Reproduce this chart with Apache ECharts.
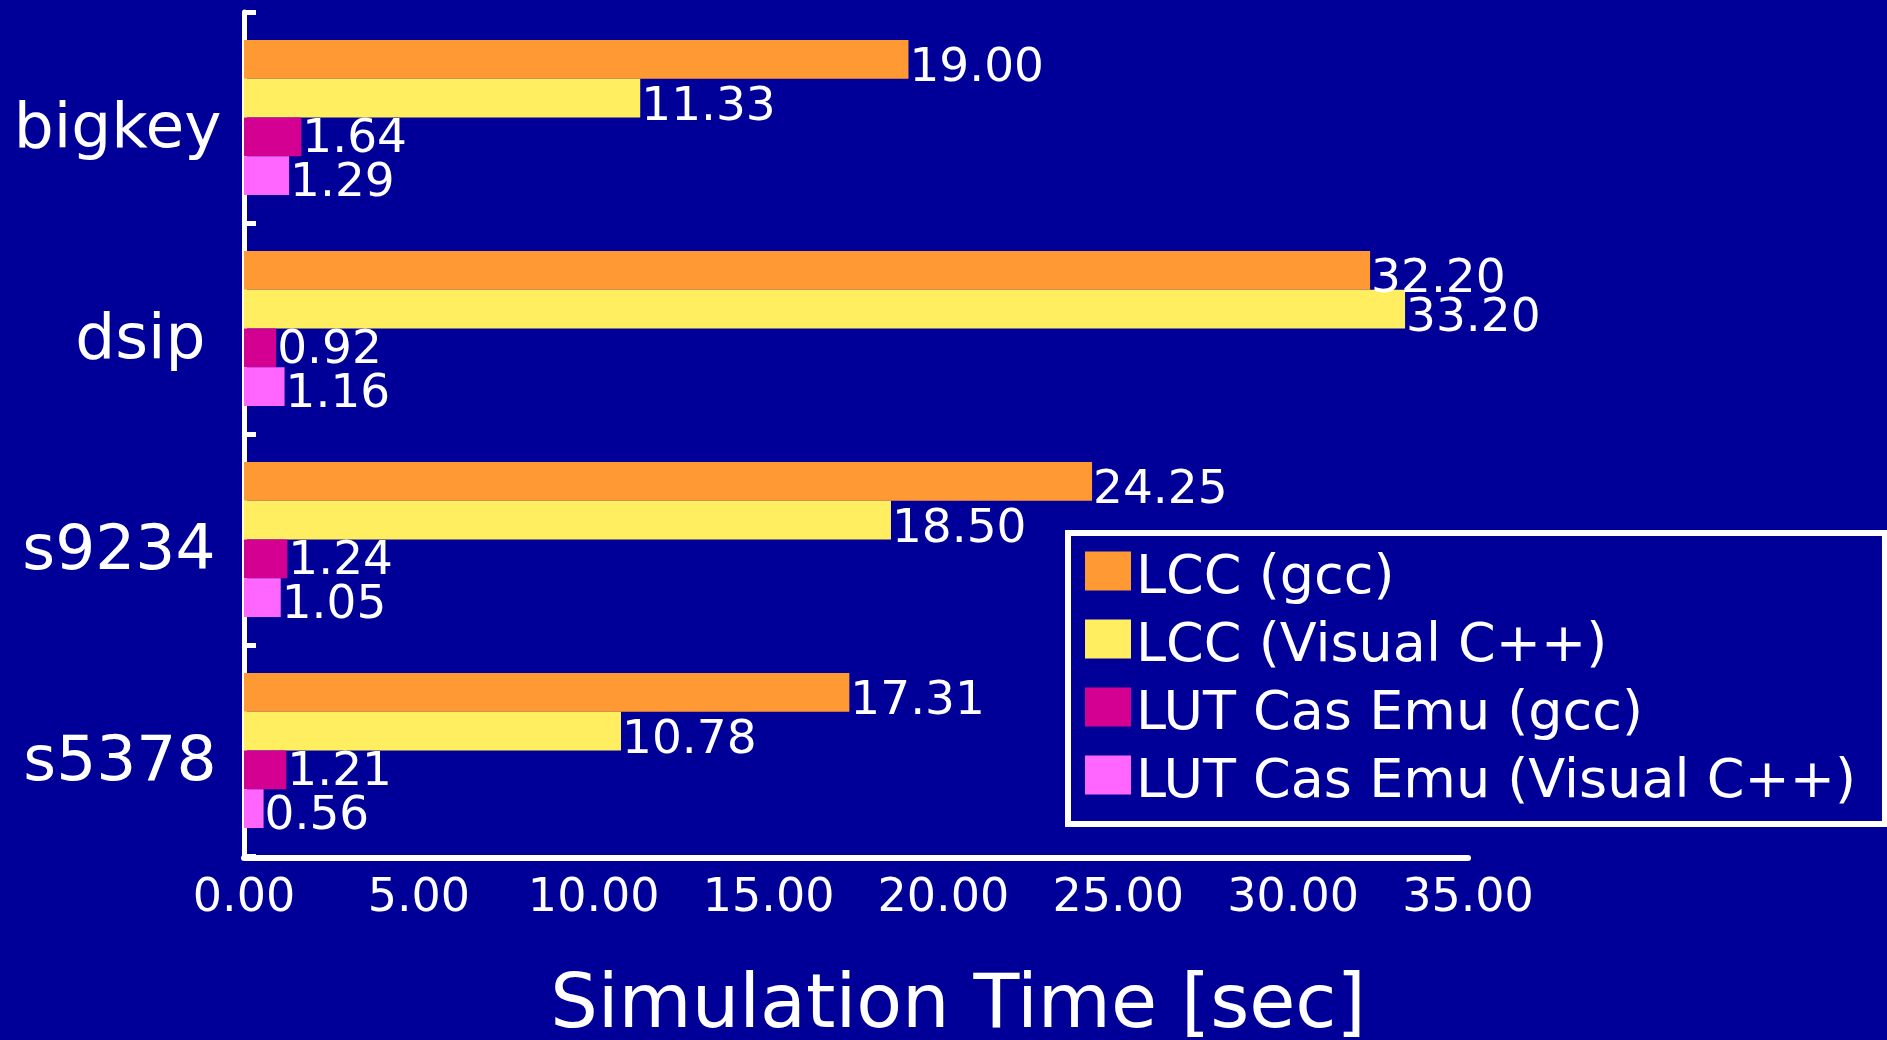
<!DOCTYPE html>
<html>
<head>
<meta charset="utf-8">
<title>Simulation Time</title>
<script src="https://cdn.jsdelivr.net/npm/echarts@6/dist/echarts.min.js"></script>
<style>
  html, body { margin: 0; padding: 0; background: #000099; }
  #chart { width: 1887px; height: 1040px; }
</style>
</head>
<body>
<div id="chart"></div>
<script>
// Benchmark circuits, top to bottom
const circuits = ['bigkey', 'dsip', 's9234', 's5378'];

// Simulation time in seconds per compiler / simulator
const seriesNames = ['LCC (gcc)', 'LCC (Visual C++)', 'LUT Cas Emu (gcc)', 'LUT Cas Emu (Visual C++)'];
const lccGcc = [19.00, 32.20, 24.25, 17.31];
const lccVisualCpp = [11.33, 33.20, 18.50, 10.78];
const lutCasEmuGcc = [1.64, 0.92, 1.24, 1.21];
const lutCasEmuVisualCpp = [1.29, 1.16, 1.05, 0.56];

const seriesValues = [lccGcc, lccVisualCpp, lutCasEmuGcc, lutCasEmuVisualCpp];
const seriesColors = ['#FF9933', '#FFEE5F', '#D40091', '#FF66FF'];
// vertical nudge of the value labels, per series
const labelDrop = [9, 10, 3, 8];

const axisTitle = 'Simulation Time [sec]';
const FONT = 'DejaVu Sans';

// extra right padding of each category label (the labels are not flush-right)
const catPadRight = { bigkey: 0, dsip: 16, s9234: 6, s5378: 5 };
const catRich = {};
circuits.forEach((c, i) => {
  catRich['c' + i] = {
    color: '#FFFFFF',
    fontFamily: FONT,
    fontSize: 63,
    lineHeight: 64,
    padding: [26, catPadRight[c], 0, 0]
  };
});

const chart = echarts.init(document.getElementById('chart'), null, { renderer: 'canvas' });

chart.setOption({
  backgroundColor: '#000099',
  animation: false,
  grid: { left: 244, right: 419, top: 12, bottom: 184, containLabel: false },
  xAxis: {
    type: 'value',
    min: 0,
    max: 35,
    interval: 5,
    offset: 2,
    axisLine: { show: true, lineStyle: { color: '#FFFFFF', width: 6 } },
    axisTick: { show: false },
    splitLine: { show: false },
    axisLabel: {
      color: '#FFFFFF',
      fontFamily: FONT,
      fontSize: 46,
      margin: 18,
      formatter: v => v.toFixed(2)
    }
  },
  yAxis: {
    type: 'category',
    data: circuits,
    inverse: true,
    offset: 2.5,
    axisLine: { show: true, lineStyle: { color: '#FFFFFF', width: 5 } },
    axisTick: { show: true, inside: true, length: 12, lineStyle: { color: '#FFFFFF', width: 5 } },
    splitLine: { show: false },
    axisLabel: {
      margin: 20,
      formatter: (v, i) => '{c' + i + '|' + v + '}',
      rich: catRich
    }
  },
  legend: {
    orient: 'vertical',
    left: 1068,
    top: 533,
    padding: [3.5, 29, 14.5, 17],
    borderColor: '#FFFFFF',
    borderWidth: 6,
    backgroundColor: '#000099',
    itemWidth: 46,
    itemHeight: 39,
    itemGap: -1,
    icon: 'rect',
    data: seriesNames,
    formatter: name => '{n|' + name + '}',
    textStyle: {
      rich: {
        n: {
          color: '#FFFFFF',
          fontFamily: FONT,
          fontSize: 54,
          lineHeight: 24,
          padding: [15, 0, 0, 0]
        }
      }
    }
  },
  graphic: [{
    type: 'text',
    x: 958,
    y: 1008,
    style: {
      text: axisTitle,
      fill: '#FFFFFF',
      font: '75px "DejaVu Sans"',
      textAlign: 'center',
      textVerticalAlign: 'middle'
    }
  }],
  series: seriesNames.map((name, i) => ({
    name: name,
    type: 'bar',
    data: seriesValues[i],
    barGap: '0%',
    barCategoryGap: '26.5%',
    itemStyle: { color: seriesColors[i] },
    label: {
      show: true,
      position: 'right',
      distance: 1,
      offset: [0, labelDrop[i]],
      color: '#FFFFFF',
      fontFamily: FONT,
      fontSize: 47,
      formatter: p => p.value.toFixed(2)
    }
  }))
});
</script>
</body>
</html>
